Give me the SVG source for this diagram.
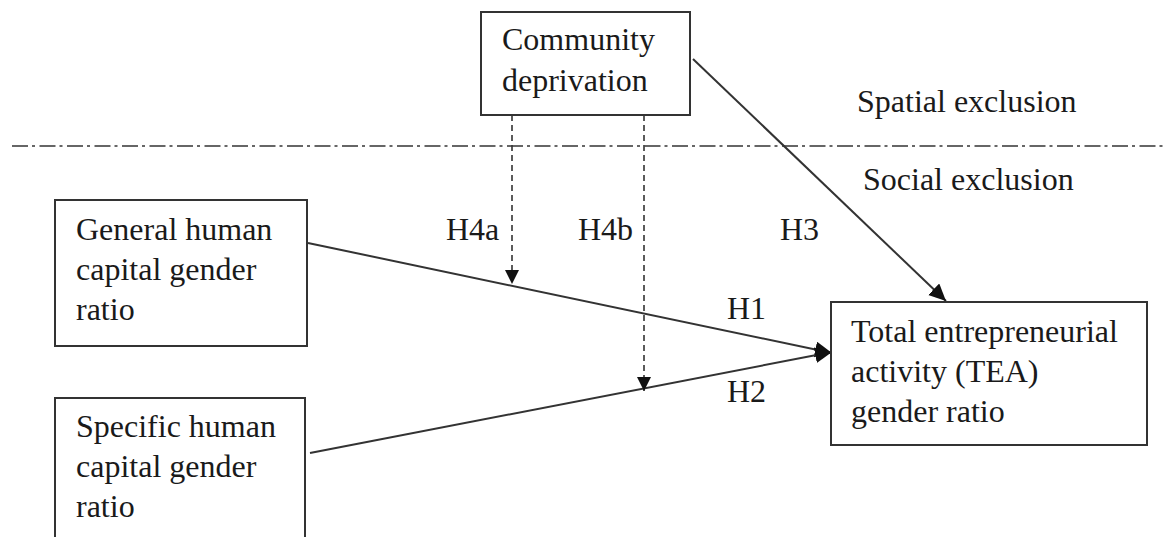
<svg xmlns="http://www.w3.org/2000/svg" width="1167" height="537" viewBox="0 0 1167 537">
<style>
.box{fill:#fff;stroke:#333;stroke-width:2}
text{font-family:"Liberation Serif","Times New Roman",serif;font-size:32px;fill:#1a1a1a}
.ln{stroke:#333;stroke-width:2;fill:none}
.dsh{stroke:#333;stroke-width:1.6;fill:none;stroke-dasharray:6 4}
.sep{stroke:#666;stroke-width:2;fill:none;stroke-dasharray:16 4 3 4.5}
</style>
<defs>
<marker id="ah" markerUnits="userSpaceOnUse" markerWidth="20" markerHeight="18" refX="17" refY="8" orient="auto">
<path d="M0,0 L17,8 L0,16 Z" fill="#111"/>
</marker>
<marker id="ahs" markerUnits="userSpaceOnUse" markerWidth="16" markerHeight="16" refX="14" refY="7" orient="auto">
<path d="M0,0 L14,7 L0,14 Z" fill="#111"/>
</marker>
</defs>
<line class="sep" x1="12" y1="146" x2="1167" y2="146"/>
<text x="857" y="112">Spatial exclusion</text>
<text x="863" y="190">Social exclusion</text>
<g id="connectors">
<line class="ln" x1="693" y1="59" x2="946" y2="301" marker-end="url(#ah)"/>
<line class="ln" x1="308" y1="243" x2="832" y2="353" marker-end="url(#ah)"/>
<line class="ln" x1="310" y1="453" x2="832" y2="352" marker-end="url(#ah)"/>
<line class="dsh" x1="512" y1="115" x2="512" y2="284" marker-end="url(#ahs)"/>
<line class="dsh" x1="644" y1="115" x2="644" y2="391" marker-end="url(#ahs)"/>
<text x="446" y="240">H4a</text>
<text x="578" y="240">H4b</text>
<text x="780" y="240">H3</text>
<text x="727" y="319">H1</text>
<text x="727" y="402">H2</text>
</g>
<g id="community">
<rect class="box" x="481" y="12" width="209" height="103"/>
<text x="502" y="50">Community</text>
<text x="502" y="91">deprivation</text>
</g>
<g id="general">
<rect class="box" x="55" y="200" width="252" height="146"/>
<text x="76" y="240">General human</text>
<text x="76" y="280">capital gender</text>
<text x="76" y="320">ratio</text>
</g>
<g id="specific">
<rect class="box" x="55" y="398" width="250" height="150"/>
<text x="76" y="437">Specific human</text>
<text x="76" y="477">capital gender</text>
<text x="76" y="517">ratio</text>
</g>
<g id="tea">
<rect class="box" x="831" y="302" width="316" height="143"/>
<text x="851" y="342">Total entrepreneurial</text>
<text x="851" y="382">activity (TEA)</text>
<text x="851" y="422">gender ratio</text>
</g>
</svg>
